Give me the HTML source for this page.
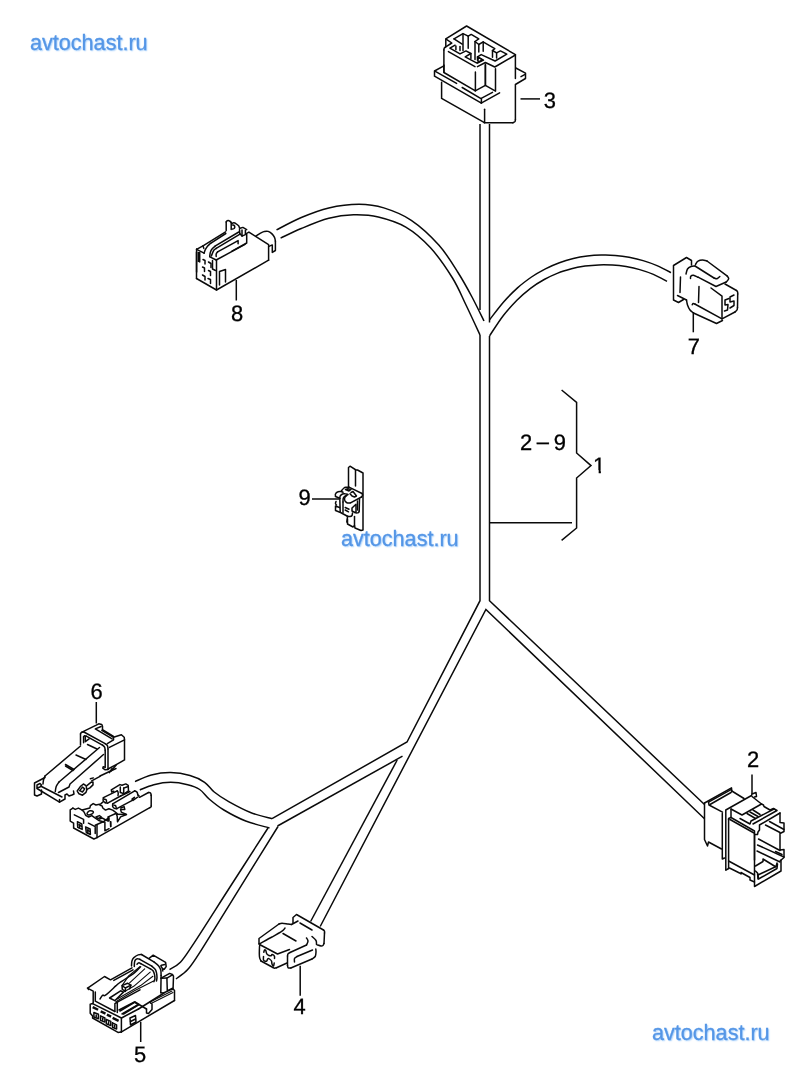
<!DOCTYPE html>
<html lang="ru">
<head>
<meta charset="utf-8">
<title>avtochast.ru</title>
<style>
html,body{margin:0;padding:0;background:#fff;}
body{width:800px;height:1076px;overflow:hidden;position:relative;font-family:"Liberation Sans",sans-serif;}
svg{display:block;position:absolute;left:0;top:0;will-change:transform;}
.k{fill:none;stroke:#0a0a0a;stroke-width:1.5;stroke-linecap:round;stroke-linejoin:round;}
.kt{fill:none;stroke:#0a0a0a;stroke-width:1.1;stroke-linecap:round;stroke-linejoin:round;}
.kb{fill:none;stroke:#0a0a0a;stroke-width:2.4;stroke-linecap:butt;}
.w{fill:none;stroke:#0a0a0a;stroke-width:1.5;stroke-linecap:butt;stroke-linejoin:miter;}
.n{font-family:"Liberation Sans",sans-serif;font-size:21.5px;fill:#000;stroke:#000;stroke-width:0.3px;text-rendering:geometricPrecision;}
.wm{position:absolute;font-family:"Liberation Sans",sans-serif;font-size:21.6px;line-height:24px;height:24px;white-space:nowrap;color:#5596e6;-webkit-text-stroke:0.3px #5596e6;text-shadow:1px 1px 1.5px #9ecbfb;will-change:transform;transform:scaleY(1.04);transform-origin:0 62%;}
</style>
</head>
<body>
<svg width="800" height="1076" viewBox="0 0 800 1076">
<rect width="800" height="1076" fill="#fff"/>
<g class="w" id="wires">
<path d="M480 124L480 310"/>
<path d="M489.5 124L489.5 322.5"/>
<path d="M480 335L480 600.7 407 742 272 818.7"/>
<path d="M489.5 336L489.5 600.7 704.5 804.5"/>
<path d="M704.5 818.7L485.9 609.5 320.2 926.5"/>
<path d="M310.6 921.5L397.2 760"/>
<path d="M402.5 756.2L277.5 826"/>
<path d="M276.5 229.9C280.6 227.8 292.6 221.2 301.3 217.5C310 213.8 319.2 210.1 328.8 207.9C338.4 205.7 349.8 204.3 359 204.3C368.2 204.3 375.1 205.2 383.8 207.9C392.5 210.6 402.1 214.1 411.3 220.3C420.5 226.5 431 236.3 438.8 245C446.6 253.7 452.5 263.8 458 272.5C463.5 281.2 467.7 288.9 472 297C476.3 305.1 482 317 484 321"/>
<path d="M280.6 238.1C284.1 236.5 293.3 231.8 301.3 228.5C309.3 225.2 320.1 220.6 328.8 218.3C337.5 216 345.2 215 353.5 214.8C361.8 214.6 369.6 214.9 378.3 217C387 219.1 397.1 222 405.8 227.1C414.5 232.2 422.7 239.3 430.5 247.8C438.3 256.3 446.6 268.5 452.5 278C458.4 287.5 461.4 295.5 466 305C470.6 314.5 477.7 330 480 335"/>
<path d="M489.6 319.7C491.9 316.8 499 307.3 503.6 302C508.2 296.7 512.9 292.1 517.5 287.9C522.1 283.7 526.9 280.2 531.5 277C536.1 273.8 540.8 271.2 545.4 268.8C550 266.4 554.8 264.4 559.4 262.7C564 261 568.6 259.7 573.3 258.6C577.9 257.5 582.6 256.7 587.3 256.1C591.9 255.5 596.6 255.2 601.2 255.1C605.9 255 610.6 255 615.2 255.4C619.9 255.8 624.5 256.4 629.1 257.3C633.8 258.2 638.5 259.2 643.1 260.6C647.8 262 652.4 263.6 657 265.6C661.6 267.6 668.7 271.4 671 272.6"/>
<path d="M489.6 335.8C491.9 332.4 498.6 321.6 503.2 315.7C507.8 309.8 512.4 304.8 516.9 300.2C521.4 295.6 526 291.8 530.5 288.3C535 284.9 539.7 282 544.2 279.5C548.8 277 553.2 274.9 557.8 273.1C562.3 271.3 567 270 571.5 268.8C576 267.6 580.6 266.8 585.1 266.1C589.6 265.5 594.2 265.1 598.8 264.9C603.3 264.7 607.8 264.8 612.4 265.1C617 265.4 621.5 265.9 626.1 266.6C630.7 267.4 635.2 268.3 639.7 269.6C644.2 270.9 648.9 272.4 653.4 274.4C657.9 276.4 664.7 280.2 667 281.4"/>
<path d="M272 818.7C268.4 817.7 257.7 815.4 250.5 812.5C243.3 809.6 234.8 805 228.7 801.6C222.6 798.2 218.2 795.2 214.2 792C210.2 788.8 208.6 785 204.6 782.3C200.6 779.5 195.7 777.1 190 775.5C184.3 773.9 177.1 772.7 170.7 772.6C164.3 772.5 157.3 773.5 151.4 775C145.5 776.5 137.7 780.5 135 781.6"/>
<path d="M269.5 828C265.5 826.8 253.3 824 245.7 821C238.1 818 229.9 813.6 223.9 810C217.9 806.4 213.4 802.6 209.4 799.2C205.4 795.8 203.3 791.9 199.7 789.5C196.1 787.1 192.5 785.9 187.7 784.7C182.9 783.5 176.3 782.3 170.7 782.3C165 782.3 159 783.4 153.8 784.7C148.7 786 142.1 789.1 139.8 790"/>
<path d="M268 828C261.7 837.8 242.6 867.4 230 887C217.4 906.6 200.8 932.9 192.5 945.4C184.2 957.9 184.2 958.3 180.4 962.3C176.6 966.3 171.3 968.4 169.5 969.6"/>
<path d="M278 826.5C271.5 837 251.9 868.6 238.8 889.6C225.8 910.6 208.2 939.4 199.7 952.7C191.2 966 191.6 965.2 187.7 969.6C183.8 974 177.9 977.4 176 979"/>
</g>
<g class="w" id="leaders">
<path d="M561.6 390L576.6 402.4 576.6 453 591 465.6 576.6 478 576.6 528 561.6 540.4"/>
<path d="M489.6 522.8L572 522.8"/>
<path d="M520.5 98.9L540 98.9"/>
<path d="M236.3 280L236.3 300.5"/>
<path d="M693.3 312L693.3 332.3"/>
<path d="M312 499L339 499"/>
<path d="M96.3 702L96.3 723.5"/>
<path d="M140.7 1021.8L140.7 1042"/>
<path d="M300.2 965.8L300.2 995.8"/>
<path d="M752 774.5L752 794"/>
</g>
<g class="k" id="c3">
<path d="M445.8 46.7L445.8 38.9 466.6 26 515.4 54.6 515.4 78.6"/>
<path d="M446.1 39.1L451.8 43 445.4 47.1"/>
<path d="M445.4 47.1C445.2 47.3 444.5 47.8 444.2 48.2C444 48.8 443.9 49.8 443.9 50.1"/>
<path d="M443.9 50.1L443.9 72.2"/>
<path d="M443.9 65L443.9 72.5 475.4 90.9 475.4 72.1"/>
<path d="M515.8 68L525.5 73.2 525.5 78.5 515.4 84.5 515.4 119.8"/>
<path d="M515.4 119.8C515.3 120.1 515.4 121.1 515 121.6C514.6 122.1 513.1 122.6 512.8 122.8"/>
<path d="M512.8 122.8L484.2 122.8"/>
<path d="M521 76.6L525.1 74.4"/>
<path d="M484.6 109.2L484.6 122.8"/>
<path d="M441.6 82.2L441.6 98.4 484 122.4"/>
<path d="M443.9 65.8L434.5 71 434.5 76.2 481.4 103.2 481.4 98.8 462.2 87.5"/>
<path d="M434.9 71.2L456.6 83.4"/>
<path d="M481.2 98.4L492.5 92.4"/>
<path d="M481.2 103.2L499.6 92.8"/>
<path d="M475.2 90.9L485.4 85.4 495.5 91.2 495.5 68.8"/>
<path d="M485.4 65L485.4 85.4"/>
<path d="M485.4 64L485.4 85"/>
<path d="M448.4 51.6L475 66.6"/>
<path d="M477.5 66.6L485.4 62.5 494.8 67 515.4 55"/>
<path d="M454 38.9L463 33.6 468.2 36.2 471.2 34.4 478.8 38.9 475 41.5 478.8 44.5 483.2 41.9"/>
<path d="M483.5 42.2L494.8 48.6 492.5 50.5 496.6 52.8 500.4 50.9 506.8 54.2 495.1 61 481.2 54.6 477.5 56.9 483.5 60.2 477.5 63.2"/>
<path d="M454 38.9L462.2 44.1"/>
<path d="M463 34L463 50.5"/>
<path d="M468.2 36.2L468.2 48.2"/>
<path d="M475 41.5L475 59.5"/>
<path d="M478.8 44.5L478.8 52"/>
<path d="M483.2 41.9L483.2 51.2"/>
<path d="M492.5 50.5L492.5 57.2"/>
<path d="M496.6 52.8L496.6 58"/>
<path d="M477.5 56.9L477.5 60.2"/>
<path d="M455.1 45.2L449.9 48.2 460 53.9 466 50.9 470.9 53.5 465.2 56.9 476.5 62.9 482.5 59.9 478 57.2 478 61"/>
<path d="M470.9 53.5L470.9 58.4"/>
<path d="M455.9 46L455.9 49.8"/>
<path d="M460 46.4L460 50.5"/>
</g>
<g class="k" id="c8">
<path d="M196.5 278.5L216.5 290 268.6 260.2"/>
<path d="M196.6 249.1L196.6 272"/>
<path d="M196.5 252L196.5 278.5"/>
<path d="M216.5 260.5L216.5 290"/>
<path d="M232 251.1L246.7 243 246.7 233.3 248.9 232.1 268.6 244.6 268.6 260.2"/>
<path d="M216.2 260L245 244.4"/>
<path d="M196.6 249.4L204.1 253.2"/>
<path d="M209.9 256.8L216.2 260"/>
<path d="M196.6 249.4L203.4 245.6 225.6 231.9"/>
<path d="M203 245.8L203.8 248.4"/>
<path d="M204.1 253.2C204.3 252.7 204.7 250.9 205.3 249.7C205.9 248.5 206.6 247.3 207.5 246.2C208.4 245.2 210.1 243.8 210.6 243.3"/>
<path d="M210.6 243.3L225.8 233.5"/>
<path d="M209.7 256.6C209.8 255.9 209.9 253.8 210.3 252.5C210.7 251.2 211.4 249.8 212.2 248.8C213 247.7 214.5 246.7 215 246.2"/>
<path d="M215 246.2L238.8 232"/>
<path d="M211.4 255.9C211.8 255 212.9 251.6 213.8 250.3C214.6 249.1 215.8 248.8 216.2 248.4"/>
<path d="M216.2 248.4L240 234.1"/>
<path d="M216.2 256.6C216.2 256.1 216 254.7 216.2 253.9C216.5 253.1 217.4 252.2 217.6 251.9"/>
<path d="M217.6 251.9L238.1 240.6 238.1 243.8"/>
<path d="M226.2 230.6L226.2 221.9"/>
<path d="M226.2 221.9C226.4 221.7 226.7 220.9 227.2 220.8C227.7 220.6 228.4 220.5 229.1 220.8C229.7 221 230.9 222.1 231.2 222.4"/>
<path d="M231.2 222.4L231.2 229.5"/>
<path d="M231.6 223.8C231.9 223.6 233 222.8 233.8 222.8C234.5 222.8 235.5 223.3 236.2 223.8C237 224.2 237.9 224.9 238.4 225.6C239 226.3 239.3 227.4 239.5 227.8"/>
<path d="M232.5 229.1C232.8 229 233.7 228.8 234.1 228.5C234.4 228.2 234.7 227.7 234.8 227.2C234.8 226.7 234.5 225.8 234.1 225.4C233.8 225.1 232.9 225.1 232.6 225"/>
<path d="M239.5 228L240.1 228.3 242.9 227.4 246.7 229.6"/>
<path d="M242 229.9L242 236.1 245.4 234.6 245.4 230.2"/>
<path d="M239.5 229.6L239.8 233.6 242 236.1"/>
<path d="M255.8 236.1C256.5 235.7 258.7 234.1 260.1 233.3C261.6 232.5 263.1 231.8 264.5 231.4C265.9 231.1 267 231 268.2 231.4C269.5 231.9 271 232.9 272 233.9C273 234.9 273.9 236.2 274.5 237.4C275.1 238.6 275.3 240.5 275.4 241.1"/>
<path d="M275.4 241.1L275.4 250.5 272.3 252.4 272.3 244.9 268.9 246.4"/>
<path d="M219.5 285L219.5 271.5 225.5 269.5 225.5 282"/>
<path d="M212.5 260.5L212.5 269 215.5 270.5"/>
<path d="M199.7 252.5L199.7 261.9 198.4 261.2"/>
<path d="M198.4 252.5L198.4 261.2"/>
<path d="M203 259.5L205 260.5 205 264"/>
<path d="M208.5 262L211 263.5 211 267.5"/>
<path d="M202.5 267L204.5 268 204.5 271.5"/>
<path d="M208.5 270.5L210.5 271.5 210.5 275.5"/>
<path d="M202.5 275L205 276.5 205 280"/>
<path d="M208 278.5L210.5 279.5 210.5 283.5"/>
</g>
<g class="k" id="c7">
<path d="M691.5 265L691.5 260.5 686.5 257.5 673.5 265.5 673.5 300 678.5 302.5 683.5 299.5"/>
<path d="M677.5 295.5L686.5 300"/>
<path d="M680.5 277L680 292.5"/>
<path d="M686 274C686.2 273.2 686.7 270.2 687.5 269C688.3 267.8 689.8 267 691 266.5C692.2 266 694.3 266.1 695 266"/>
<path d="M686.5 300C686.7 300.8 686.9 303.3 687.5 305C688.1 306.7 689 308.7 690 310C691 311.3 692.9 312.5 693.5 313"/>
<path d="M693.5 313L716.5 323.5 722.5 320.5"/>
<path d="M695.5 264.5C695.9 263.9 696.8 261.9 698 261.2C699.2 260.4 701 260 702.5 260C704 260 706.2 260.8 707 261"/>
<path d="M707 261L727 275.8"/>
<path d="M727 275.8C727.3 276.3 728.8 277.8 728.7 278.8C728.6 279.8 726.6 281.5 726.2 282"/>
<path d="M726.2 282L716 286.5 698 277.2"/>
<path d="M698 277.2C697.2 276.9 694.7 275.4 693.5 275.2C692.3 275 691.3 275.6 690.8 276.2C690.3 276.8 690.5 278.1 690.5 278.5"/>
<path d="M695 266L714 278"/>
<path d="M714 278C714.5 278.1 716 278.9 717 278.7C718 278.4 719.3 276.9 719.8 276.5"/>
<path d="M725 284L736.5 290.5"/>
<path d="M736.5 290.5C736.7 290.8 737.4 291.4 737.6 292C737.8 292.6 737.7 293.7 737.7 294"/>
<path d="M737.7 294L737.5 307.5"/>
<path d="M737.5 307.5C737.4 307.9 737.4 309.2 737 310C736.6 310.8 735.3 311.7 735 312"/>
<path d="M735 312L722 318.8"/>
<path d="M711 288L722 296.2 722 318.8"/>
<path d="M692.2 304.8C692.4 304.6 692.8 303.7 693.2 303.6C693.6 303.5 694.5 303.9 694.8 304"/>
<path d="M694.8 304L722 318.8"/>
<path d="M699 286.5L698.5 302.5"/>
<path d="M734 295L730 297 730 302 734 301 734 305.5 730 308"/>
<path d="M729 298.5L725 300 725 305 728 304.5 727.5 310 724.5 311"/>
</g>
<g class="k" id="c9">
<path d="M348.5 487L348.5 467.5 350 466.2 356 470 357.5 470 363 473 363 530 361 530.5 355 528 354.5 525.5 353 527 347.5 524 347.5 519"/>
<path d="M355.5 470L355.5 486"/>
<path d="M354.5 516.5L354.5 525.5"/>
<path d="M341.5 490.8C341.9 490.3 343.2 488.6 344 488C344.8 487.4 345.7 487.4 346.5 487.2C347.3 487.1 348.6 487.2 349 487.2"/>
<path d="M349 487.2L362 493.5"/>
<path d="M362 493.5C362.1 493.8 362.7 494.5 362.6 495.1C362.5 495.7 361.7 496.7 361.5 497"/>
<path d="M361.5 497L350.5 502.8"/>
<path d="M350.5 502.8C350 502.8 348.4 503.2 347.5 503C346.6 502.8 345.8 501.9 345.2 501.2C344.8 500.6 344.5 499.8 344.5 499C344.5 498.2 344.8 497.4 345.2 496.8C345.7 496.1 346.7 495.5 347 495.2"/>
<path d="M335.5 496.2C335.5 495.8 335.1 494.5 335.5 493.8C335.9 493 337.1 492.1 338 491.8C338.9 491.4 340.2 491.4 341 491.5C341.8 491.6 342.7 492.1 343 492.2"/>
<path d="M335.5 496.5L339.8 498.2"/>
<path d="M339.8 498.5C339.8 498.1 339.8 496.8 340.2 496C340.7 495.2 341.7 494.4 342.5 494C343.3 493.6 344.1 493.7 345 493.8C345.9 493.8 347.5 494.4 348 494.5"/>
<path d="M339.8 498.5L340.2 512"/>
<path d="M343 502L343 512.5"/>
<path d="M343 502C343 501.4 343 499.4 343.2 498.5C343.5 497.6 344 497 344.5 496.5C345 496 346.2 495.7 346.5 495.5"/>
<path d="M345.5 489.5L348 488.8 351 489.5 349 491 345.5 489.5"/>
<path d="M351 492.5L353 491.5 356.5 496 354.5 497 352 496 350 493.8"/>
<path d="M336 501.5C335.9 501.8 335.4 502.9 335.5 503.5C335.6 504.1 336.3 504.8 336.5 505"/>
<path d="M339.5 507.5L335.5 506 335.5 510.5 340.5 512.5 347 516"/>
<path d="M347 516C347.5 516.1 349.2 516.7 350 516.6C350.8 516.5 351.6 516.1 352 515.5C352.4 514.9 352.4 513.4 352.5 513"/>
<path d="M359.5 499L359.2 511"/>
<path d="M359.2 511C359.1 511.3 359 512.3 358.5 512.6C358 512.9 357.1 512.9 356.5 512.9C355.9 512.9 355.2 512.6 355 512.5"/>
<path d="M355 512.5L352 511 352 508 356 504.2 356 512"/>
<path d="M357.5 501L357.5 510"/>
<path d="M345.2 507.5L349 509.2"/>
<path d="M345.2 510L348.5 511.8"/>
<path d="M347.5 517L346.8 522"/>
</g>
<g class="k" id="c6">
<path d="M80.5 744.8L80.5 733.8"/>
<path d="M80.5 733.8C80.7 733.5 81 732.7 81.5 732.4C82.1 732.1 83.5 732.1 83.9 732"/>
<path d="M83.9 732L105.2 743.7"/>
<path d="M105.2 743.7C105.6 744.1 107 744.9 107.5 745.8C107.9 746.6 107.9 748.4 108 748.9"/>
<path d="M108 748.9L108 769.5"/>
<path d="M83.6 742.7L83.6 736.8"/>
<path d="M83.6 736.8C83.8 736.7 84.2 735.9 84.6 735.8C85.1 735.7 86.1 736.1 86.3 736.2"/>
<path d="M86.3 736.2L102.5 745.1"/>
<path d="M102.5 745.1C102.8 745.4 104.1 746.3 104.6 747.2C105 748 105.1 749.7 105.2 750.2"/>
<path d="M105.2 750.2L105.2 767.4 103.2 766.8 102.8 768.1 105.2 769.8 108 769.5"/>
<path d="M85.3 736.6L85.3 741.7 89.1 738.9"/>
<path d="M81.5 732.4L96.3 725.2 98.7 723.8 101.8 724.5 102.5 726.2 102.5 729.6 113.5 736.5 113.5 739.6"/>
<path d="M101.1 726.5L95.3 728.9 112.1 738.9"/>
<path d="M101.8 730.3L113.2 737"/>
<path d="M107.3 743.7L113.5 739.9"/>
<path d="M113.5 737.2L121.4 734.8 124.2 737.2 124.5 739.6 124.5 759.9 116.2 764.7 108 769"/>
<path d="M109.4 747.4L124.5 739.8"/>
<path d="M110.8 771.2L116.2 765"/>
<path d="M109.4 772.6L112.1 768.5"/>
<path d="M45 776L80.5 746"/>
<path d="M45 776C44.8 776.7 43.8 778.7 43.5 780C43.2 781.3 43.1 783.3 43 784"/>
<path d="M99.5 747.5L59 782"/>
<path d="M59 782C58.5 782.8 56.8 784.9 56.2 786.5C55.6 788.1 55.4 790.7 55.3 791.5"/>
<path d="M103.5 754.5L70 784 69 787 58.5 792.5"/>
<path d="M87.5 744.5L97 749"/>
<path d="M76 755L86 759.5"/>
<path d="M65.5 764.5L74 769.5"/>
<path d="M65.5 766L73 770.5"/>
<path d="M45 777.5L34.5 783 34.5 795 37 796 41.5 794 41.5 790"/>
<path d="M37 785L37 788 40 787 41.5 785 40 783.5 37 785"/>
<path d="M41.5 786.5L62 797"/>
<path d="M37 788.5L59.5 802.2 65 799 65 795 67 794 69 796 72 795 74 794 73.5 791"/>
<path d="M59.5 799.5L59.5 802.2"/>
<path d="M77.2 791L80.3 786.6 83.4 784 86 785.6 86.9 789.7 86 792.3 82.5 795.2 79 793.8 77.2 791"/>
<path d="M79.7 790.6L82.5 787.1 84.7 788.8 82.5 792 79.7 790.6"/>
<path d="M86.9 785.6L91.2 782.2 93 782 93 784.9 89.9 787.9 86.9 789.4"/>
<path d="M90.4 778.8L93.4 777.9"/>
<path d="M91.7 780.9L100 776.3"/>
<path d="M100 776L116 768.5"/>
<path d="M72.9 808.1L70.2 809.8 70.2 821.1 73.6 823.2 73.6 828 93.9 839 97 837.6"/>
<path d="M97 837.6L149.8 807.7"/>
<path d="M72.9 808.1L75.3 809.4 78.4 808.1 82.2 810.1 84.2 812.2 85.6 815.3 88.7 817 91.8 815.6 94.6 817.7 99.4 820.8 103.2 821.8"/>
<path d="M97 825.6L97 837.6"/>
<path d="M95.2 825.2L103.2 821.8 104.9 822.2 104.9 830.8 109 828.7"/>
<path d="M103.2 821.8L109 817.7 109 821.1"/>
<path d="M110.5 821.8L110.7 826.6"/>
<path d="M74.3 814.9L83.6 819.4 83.6 823.2"/>
<path d="M88.4 823.2L95.2 826.6 95.2 833.5"/>
<path d="M77.4 821.8L81.8 823.9 82.2 829.4 77.7 827.3 77.4 821.8"/>
<path d="M78.8 824.9L81.5 826.3"/>
<path d="M79.8 824.6L79.4 828"/>
<path d="M85.6 827L90.1 829 90.4 834.5 86.3 832.5 85.6 827"/>
<path d="M87 830.1L89.8 831.4"/>
<path d="M88 829.4L87.7 833.2"/>
<path d="M82.2 810.1L89.8 808.1 90.4 805.7 93.2 803.6 95.9 805 100.8 803.9 103.5 801.5"/>
<path d="M87.7 812.2C88 812 88.8 810.9 89.8 810.8C90.7 810.7 92.7 811 93.2 811.5C93.6 812 93.2 813 92.5 813.6C91.8 814.1 90 814.9 89.1 814.9C88.1 815 87.2 814.4 87 813.9C86.8 813.4 87.6 812.5 87.7 812.2"/>
<path d="M95.9 817L99.4 815.6 101.4 817 98 818.7 95.9 817"/>
<path d="M99.4 819.1L102.1 818 107.6 820.8"/>
<path d="M139.5 797.3L148.5 792.5"/>
<path d="M148.5 792.5C148.8 792.6 150.1 792.6 150.5 793C151 793.5 151.1 794.9 151.2 795.3"/>
<path d="M151.2 795.3L151.2 805.9"/>
<path d="M151.2 805.9C151.2 806.1 151.1 806.7 150.9 807C150.6 807.3 150 807.5 149.8 807.7"/>
<path d="M103.4 797.7L117.2 790.8"/>
<path d="M103.4 797.7C103.4 798.1 102.9 799.6 103.1 800.4C103.3 801.2 104.1 802 104.8 802.5C105.6 803 107.1 803.1 107.6 803.2"/>
<path d="M107.6 803.2L120.6 796"/>
<path d="M104.1 799.1C104.5 799.2 105.8 799.3 106.2 799.8C106.6 800.2 106.5 801.6 106.5 802"/>
<path d="M117.2 790.8C117.4 791.1 118.1 791.9 118.2 792.7C118.4 793.5 118 795.1 118 795.6"/>
<path d="M112.7 803.9L134.7 790.8"/>
<path d="M134.7 790.8C135.1 791 136.6 791.5 137.1 792.2C137.6 792.9 137.7 794.5 137.8 794.9"/>
<path d="M137.8 794.9L139.2 796 133 800.4 132 799.1 134.4 797.3"/>
<path d="M116.8 808.7L132.3 800.4"/>
<path d="M112.7 803.9C112.7 804.3 112.4 805.9 112.7 806.6C113 807.4 113.8 808 114.4 808.3C115.1 808.7 116.4 808.6 116.8 808.7"/>
<path d="M113.8 805.2C114 805.3 115.1 805.2 115.5 805.6C115.9 806 116 807.1 116.2 807.5"/>
<path d="M111.7 791.8L111.3 789.8 119.9 784.6 122 785.3 125.8 783.9 128.2 785.3 128.5 790.8 124.1 793.9 120.6 792.5"/>
<path d="M120.3 787L120.3 792.5"/>
<path d="M123.7 788.1L123.7 793.6"/>
<path d="M123.7 788.1L127.5 786.7"/>
<path d="M111.7 791.8L113.8 791.2"/>
<path d="M120.6 796L129.9 791.5"/>
<path d="M100 805.2L102.1 805.9 102.8 808 105.5 810.1 108.9 808.7 112.7 810.1 117.2 813.5"/>
<path d="M116.5 814.2L126.1 814.5"/>
<path d="M120.6 809.4L121.3 812.1 126.5 814.5 120.6 816.9 117.5 821.8 117.2 816.2 116.5 814.2"/>
<path d="M120.6 808L124.1 806.6 124.8 809.4 121.3 809.4"/>
<path d="M108.2 816.9L108.2 821.1"/>
<path d="M110.7 821.8L110.7 826.6"/>
<path d="M108.2 816.9L115.8 813.5"/>
</g>
<g class="k" id="c5">
<path d="M132 967.8L110.5 979.8 104.5 976.5 88 987.8 88.5 989.5"/>
<path d="M87.4 988.1L93.2 991.2 93.2 1003"/>
<path d="M95.3 991.9L95.3 1001.2 114.9 1011.5"/>
<path d="M113.8 980.4L133 969.8"/>
<path d="M100 999C100.5 998.4 101.8 995.8 102.8 995.2C103.7 994.6 103.3 996.8 105.5 995.2C107.7 993.7 113.4 988.1 115.8 985.9C118.2 983.8 116.8 984.7 119.9 982.5C123 980.3 130.9 975.5 134.4 972.9C137.8 970.2 139.5 967.7 140.6 966.7"/>
<path d="M114.9 1011.5L114.9 1003.6 117.3 1002.2 117.3 1012.5"/>
<path d="M117.3 1002.2L140 989.8"/>
<path d="M122 985.6L127.5 983.2 130.9 985.2 125.4 988 122 985.6 122.3 989.4 125.4 991.4 125.4 988"/>
<path d="M130.9 985.2L129.6 988.7"/>
<path d="M109.6 998L120.6 990.8 123.4 992.1 114.8 1000.7 109.6 998"/>
<path d="M119 1010L134.5 1002 138.5 1004.5 122 1014"/>
<path d="M92.6 1003.6L90.2 1004.2 90.2 1013.2 92.6 1015.9 92.6 1018 118 1032.4 121.1 1032.1"/>
<path d="M121.1 1032.1L174.5 1000.5"/>
<path d="M92.6 1003.6L121.4 1018 121.4 1032"/>
<path d="M93.9 1012.5L98.4 1014.2 98.4 1018.7 93.9 1017 93.9 1012.5"/>
<path d="M96.2 1014.9L96.2 1016.8"/>
<path d="M100.5 1015.9L104.9 1018 104.9 1022.1 100.5 1020.4 100.5 1015.9"/>
<path d="M102.7 1018.3L102.7 1020.2"/>
<path d="M106.3 1019.4L110.8 1021.4 110.8 1025.6 106.3 1023.8 106.3 1019.4"/>
<path d="M108.6 1021.8L108.6 1023.6"/>
<path d="M112.5 1022.8L116.6 1024.9 116.6 1029 112.5 1027.3 112.5 1022.8"/>
<path d="M114.6 1025.2L114.6 1027.1"/>
<path d="M131.5 965.9C131.6 965.1 131.5 962.4 131.9 961.1C132.3 959.7 132.9 958.7 133.9 957.6C135 956.6 136.8 955.4 138.1 954.9C139.3 954.4 140.9 954.6 141.5 954.5"/>
<path d="M141.5 954.5L153.9 961.8"/>
<path d="M153.9 961.8C154.7 962.4 157.5 964.5 158.7 965.9C159.8 967.2 160.3 968.4 160.8 970C161.2 971.6 161 974.6 161.1 975.5"/>
<path d="M161.1 975.5L160.8 992.7"/>
<path d="M134.3 966.6C134.3 965.9 134.3 963.5 134.5 962.4C134.7 961.3 134.8 960.7 135.3 960C135.8 959.4 136.6 958.8 137.4 958.7C138.1 958.5 139.4 959.2 139.8 959.3"/>
<path d="M139.8 959.3L151.8 966.2"/>
<path d="M151.8 966.2C152.4 966.7 154.4 968.1 155.2 969.3C156.1 970.5 156.3 972.1 156.6 973.4C156.9 974.8 157 976.3 157 977.6C156.9 978.8 156.6 980.4 156.5 981"/>
<path d="M137 964.2C137.3 963.9 138.1 962.9 138.8 962.8C139.4 962.7 140.5 963.5 140.8 963.7"/>
<path d="M140.8 963.7L150.4 968.8"/>
<path d="M150.4 968.8C150.9 969.1 152.5 970 153.2 971C153.9 972 154.3 973.5 154.6 974.8C154.8 976.1 155 977.8 154.9 978.9C154.8 980.1 154 981.2 153.9 981.7"/>
<path d="M149.1 958.3L153.2 955.2 165.6 962.4 166.2 966.6 164.2 969.3 162.5 968.6 162.8 971"/>
<path d="M161.4 965.2L164.9 964.5"/>
<path d="M160.8 965.9L162.5 968.6"/>
<path d="M161.1 978.2L169.7 973.4 172.4 974.5 173.5 976.2 173.1 987.9 167.6 990.6"/>
<path d="M166.9 978.2L167.3 990.6"/>
<path d="M161.1 978.2L166.9 978.1 172.4 974.8"/>
<path d="M160.8 992.7L163.5 993 173.1 988.6 174.5 990.6"/>
<path d="M174.5 991L174.5 1000.5"/>
<path d="M146.5 1009L146.5 1013 148.5 1013.5 152 1009.5 152 1004 150 1002.5"/>
<path d="M120 1011L135 1002 139 1004.5 123.5 1014"/>
<path d="M139 1004.5L146.5 1009"/>
<path d="M138.5 1009L164 993"/>
<path d="M130 1018L135.5 1015.5 136 1022 130.5 1025 130 1018"/>
<path d="M130.5 1021.5L135.5 1019"/>
<path d="M121.5 1018L138.5 1009"/>
</g>
<g class="kt" id="c5t">
<path d="M139.9 966.7L128.9 975.6 122 985.6"/>
<path d="M144.7 968.8L129.6 982.8"/>
<path d="M150.2 972.2L133.7 986.3 123.7 992.1"/>
<path d="M152.9 976.3L140.6 985.6 117.2 999"/>
<path d="M153.6 981.1L134.4 990.8 115.8 1001.8"/>
<path d="M150 1002L172 991"/>
<path d="M151 1003.5L173 992.5"/>
</g>
<g class="kb" id="c5b">
<path d="M92.7 1007.1L98.1 1009.8"/>
<path d="M100.7 1011.3L105.5 1013.6"/>
<path d="M106.9 1014.6L111.1 1016.6"/>
<path d="M112.6 1017.9L118.6 1020.9"/>
</g>
<g class="k" id="c4">
<path d="M293 923L293 917.5 296.5 914.5 323.5 930"/>
<path d="M323.5 930C323.7 930.2 324.3 930.7 324.5 931.2C324.7 931.7 324.5 932.7 324.5 933"/>
<path d="M324.5 933L324 943.5"/>
<path d="M324 943.5C323.8 943.8 323.5 945.1 323 945.5C322.5 945.9 321.9 946.1 321 946C320.1 945.9 318.1 945.2 317.5 945"/>
<path d="M300 923L312 930"/>
<path d="M312 936.5C312.7 937.2 315.2 939.2 316 940.5C316.8 941.8 316.4 943.8 316.5 944.5"/>
<path d="M259 944L259 938.5 279 924"/>
<path d="M279 924C279.5 923.9 280.5 923.2 282 923.2C283.5 923.2 286.4 923.8 288 924C289.6 924.2 290.9 924.4 291.5 924.5"/>
<path d="M291.5 924.5L298 921"/>
<path d="M259 944C261.2 942.8 268.2 939.1 272 937C275.8 934.9 279.8 932.7 282 931.2C284.2 929.7 284.5 928.5 285 928"/>
<path d="M283 933.5L296 941"/>
<path d="M260 944.5C259.9 944.9 259.6 944.9 259.5 947C259.4 949.1 259.2 954.7 259.5 957C259.8 959.3 260.8 960.3 261 961"/>
<path d="M261 961L273 967.5"/>
<path d="M273 967.5C273.2 967.6 273.9 968.2 274.5 968.2C275.1 968.2 276.2 967.9 276.5 967.8"/>
<path d="M276.5 967.8L287 963"/>
<path d="M260.5 945L277.5 954 289.5 949.5"/>
<path d="M263.8 952.2C263.9 951.9 264.2 950.3 264.5 950C264.8 949.7 265.4 949.9 265.8 950.5C266.1 951.1 266.2 952.9 266.8 953.8C267.3 954.6 268.3 955.2 269 955.5C269.7 955.8 270.5 955.9 271 955.8C271.5 955.6 271.6 954.6 272 954.5C272.4 954.4 273.1 954.7 273.5 955C273.9 955.3 274.3 955.9 274.5 956.5C274.7 957.1 274.5 958.2 274.5 958.5"/>
<path d="M263.5 956.5C263.5 957.1 263.2 959.2 263.5 960C263.8 960.8 264.5 961.1 265 961.2C265.5 961.4 266.3 961.4 266.8 961C267.2 960.6 267.3 959.1 267.8 958.8C268.2 958.4 268.9 958.6 269.5 959C270.1 959.4 271.1 960.2 271.5 961C271.9 961.8 271.7 963.2 272 964C272.3 964.8 273.1 966.2 273.5 966C273.9 965.8 274.1 963.5 274.2 963"/>
<path d="M306.5 938C306.8 938.5 308 939.8 308 941C308 942.2 306.8 944.3 306.5 945"/>
<path d="M306.5 945L290 952.5"/>
<path d="M290 952.5C289.7 952.7 288.4 953.2 288 953.8C287.6 954.4 287.6 955.6 287.5 956"/>
<path d="M287.5 956L287.5 965.5"/>
<path d="M287.5 965.5C287.6 965.9 287.6 967.4 288.2 967.8C288.8 968.2 290.4 968 290.8 968"/>
<path d="M290.8 968L312 959"/>
<path d="M312 959C312.5 958.6 314.5 957.7 315.2 956.5C315.9 955.3 315.9 953.2 316 952C316.1 950.8 315.8 949.5 315.8 949"/>
<path d="M294.5 962C294.5 961.4 294.1 959.4 294.5 958.5C294.9 957.6 296.6 956.8 297 956.5"/>
<path d="M297 956.5L312.5 950"/>
</g>
<g class="k" id="c2">
<path d="M704.5 803L731.5 787.8 731.8 791 744 798.5"/>
<path d="M708.5 802.2L731 789.7"/>
<path d="M710 804.5L731 792.5 731.8 791"/>
<path d="M704.5 803L704.5 839.5 707.5 846 708.5 842 721.5 849"/>
<path d="M708.5 802.2L709 805 722.5 812.2"/>
<path d="M722.3 813.5L722.3 859 724.5 858"/>
<path d="M725.8 870L725.8 810 751.5 795.5 752 794 756 792.5 756.5 796.5 754.5 797"/>
<path d="M725.8 870L728.8 868.5"/>
<path d="M728.6 820L728.6 818.5 731 817.5 754.5 831 754.5 834.5 757.5 834.5 758 832 759.5 830 759.5 825 780 813"/>
<path d="M731 809L731 817"/>
<path d="M731 809L742 815 761.5 804 752 796.5"/>
<path d="M761.5 804L763.5 805 764 806.5 770 810 773.5 808.5 777 810.5 753 824"/>
<path d="M740 818.5L750 824 751 821 774 809"/>
<path d="M747 813.5L755.5 818.5"/>
<path d="M750 812L758 816.5"/>
<path d="M753 810L760 814.5"/>
<path d="M730 819.5L754 833"/>
<path d="M754.5 834.5L754.5 860"/>
<path d="M728.6 819L728.6 868"/>
<path d="M728.6 861L754.5 875"/>
<path d="M729.5 868L739.5 873 741 874 741 872.5 750 877.5 750 880 754.5 882"/>
<path d="M754.5 835L754.5 886.5 781 871 781 860"/>
<path d="M780 813L780 822.5 784 823 784 831.5 780 833.5 780 850 784 849.5 784 857.5 780 861"/>
<path d="M769.5 821.5L784 829.5"/>
<path d="M765.5 825L780 832.5"/>
<path d="M758.5 839L780 850.5"/>
<path d="M757.5 845L784 857"/>
<path d="M757 851L780 862"/>
<path d="M775.5 851.5L782 854.5"/>
<path d="M755.5 866L763 861.5 763 859 776 867 777 863"/>
<path d="M758 874L758.5 879 777 868.5 777.5 864"/>
<path d="M755.5 871L757.5 873 758 879"/>
<path d="M758 875L775 867"/>
</g>
<defs><clipPath id="c1"><path d="M-2 -20H9.6V-2.4H7.6V2H5.5V-2.4H-2Z"/></clipPath></defs>
<g class="n" id="labels">
<text transform="translate(520 450.3) scale(1.02 1.035)" word-spacing="-1.4">2<tspan dy="-1.3"> – </tspan><tspan dy="1.3">9</tspan></text>
<text transform="translate(593.1 472.8) scale(1.02 1.035)" clip-path="url(#c1)">1</text>
<text transform="translate(543.8 107.5) scale(1.02 1.035)">3</text>
<text transform="translate(231 321.3) scale(1.02 1.035)">8</text>
<text transform="translate(687.8 353.6) scale(1.02 1.035)">7</text>
<text transform="translate(298.5 504.7) scale(1.02 1.035)">9</text>
<text transform="translate(90.4 698.6) scale(1.02 1.035)">6</text>
<text transform="translate(134.1 1061.8) scale(1.02 1.035)">5</text>
<text transform="translate(293.6 1014.1) scale(1.02 1.035)">4</text>
<text transform="translate(747.1 766.7) scale(1.02 1.035)">2</text>
</g>
</svg>
<div class="wm" style="left:29.8px;top:31.2px;">avtochast.ru</div>
<div class="wm" style="left:341.4px;top:526.8px;">avtochast.ru</div>
<div class="wm" style="left:651.6px;top:1021px;">avtochast.ru</div>
</body>
</html>
